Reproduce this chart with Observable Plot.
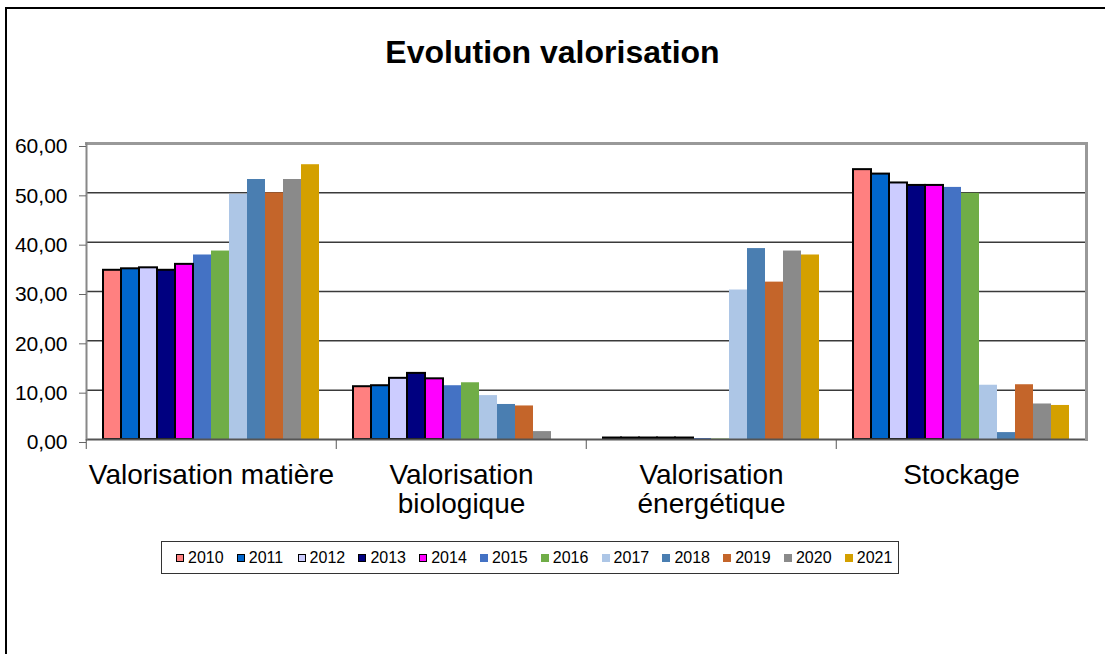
<!DOCTYPE html>
<html>
<head>
<meta charset="utf-8">
<script src="https://cdn.jsdelivr.net/npm/d3@7"></script>
<script src="https://cdn.jsdelivr.net/npm/@observablehq/plot@0.6"></script>
<style>
  html, body { margin: 0; padding: 0; background: white; }
  body { width: 1105px; height: 654px; position: relative; overflow: hidden; font-family: "Liberation Sans", Arial, sans-serif; }
  #border { position: absolute; left: 5px; top: 7px; width: 1200px; height: 800px; border-left: 2px solid #000; border-top: 2px solid #000; }
  #chart { position: absolute; left: 0; top: 0; }
  #title { position: absolute; left: 0; top: 36px; width: 1105px; text-align: center; font-size: 32px; line-height: 32px; font-weight: bold; color: #000; }
  #legend { position: absolute; left: 161px; top: 541px; width: 722px; height: 31px; border: 1.5px solid #333; display: flex; align-items: center; padding-left: 14px; box-sizing: content-box; }
  .item { width: 60.8px; display: flex; align-items: center; font-size: 16px; color: #000; flex: none; }
  .sw { width: 8px; height: 8px; margin-right: 4px; box-sizing: border-box; }
</style>
</head>
<body>
<div id="border"></div>
<div id="chart"></div>
<div id="title">Evolution valorisation</div>
<div id="legend"></div>
<script>
const categories = ["Valorisation matière", "Valorisation biologique", "Valorisation énergétique", "Stockage"];
const categoryLabels = ["Valorisation matière", "Valorisation\nbiologique", "Valorisation\nénergétique", "Stockage"];
const years = ["2010", "2011", "2012", "2013", "2014", "2015", "2016", "2017", "2018", "2019", "2020", "2021"];
const borderedYears = ["2010", "2011", "2012", "2013", "2014"];
const colors = ["#FF8080", "#0066CC", "#CCCCFF", "#000080", "#FF00FF", "#4472C4", "#70AD47", "#ADC6E6", "#4A7EB1", "#C4652A", "#8A8A8A", "#D4A000"];
const valorisationMatiere = [34.3, 34.6, 34.8, 34.3, 35.5, 37.4, 38.2, 49.7, 52.7, 50.0, 52.7, 55.7];
const valorisationBiologique = [10.7, 10.9, 12.4, 13.4, 12.3, 10.9, 11.5, 8.9, 7.1, 6.8, 1.6, 0.0];
const valorisationEnergetique = [0.3, 0.3, 0.3, 0.3, 0.3, 0.2, 0.1, 30.3, 38.7, 31.9, 38.2, 37.4];
const stockage = [54.7, 53.8, 52.0, 51.5, 51.5, 51.1, 49.9, 11.0, 1.4, 11.1, 7.2, 6.9];
const yTicks = [0, 10, 20, 30, 40, 50, 60];
const gridTicks = [10, 20, 30, 40, 50];

const series = [valorisationMatiere, valorisationBiologique, valorisationEnergetique, stockage];
const data = [];
categories.forEach((c, ci) => years.forEach((y, yi) => data.push({category: c, year: y, value: series[ci][yi]})));

const W = 1105, H = 530, ML = 85, MR = 18, MT = 143, MB = 91;
const halfBand = (W - ML - MR) / categories.length / 2;
const labelOf = new Map(categories.map((c, i) => [c, categoryLabels[i]]));

const chart = Plot.plot({
  width: W, height: H,
  marginLeft: ML, marginRight: MR, marginTop: MT, marginBottom: MB,
  style: {fontFamily: "'Liberation Sans', Arial, sans-serif", background: "transparent", color: "#000"},
  fx: {domain: categories, padding: 0},
  x: {domain: years, paddingInner: 0, paddingOuter: 0.74, axis: null},
  y: {domain: [0, 60]},
  color: {type: "ordinal", domain: years, range: colors},
  marks: [
    Plot.ruleY(gridTicks, {stroke: "#3a3a3a", strokeWidth: 1.5}),
    Plot.barY(data, {filter: d => !borderedYears.includes(d.year), fx: "category", x: "year", y: "value", fill: "year"}),
    Plot.barY(data, {filter: d => borderedYears.includes(d.year), fx: "category", x: "year", y: "value", fill: "year", stroke: "#000", strokeWidth: 2}),
    Plot.ruleY([0], {stroke: "#555", strokeWidth: 2}),
    Plot.frame({anchor: "top", stroke: "#999", strokeWidth: 3}),
    Plot.frame({anchor: "right", facetAnchor: "right", stroke: "#999", strokeWidth: 3}),
    Plot.frame({anchor: "left", facetAnchor: "left", stroke: "#888", strokeWidth: 2}),
    Plot.axisY({ticks: yTicks, tickFormat: d => d.toFixed(2).replace(".", ","), tickSize: 7, tickPadding: 12, fontSize: 21, dy: 3, stroke: "#666", label: null}),
    Plot.axisFx({anchor: "bottom", tickSize: 0, tickPadding: 24, fontSize: 28, lineHeight: 1.04, tickFormat: d => labelOf.get(d), label: null}),
    Plot.axisFx({anchor: "bottom", tickSize: 10, tickFormat: () => "", dx: -halfBand, stroke: "#555", label: null})
  ]
});
document.getElementById("chart").appendChild(chart);

const legend = document.getElementById("legend");
years.forEach((y, i) => {
  const item = document.createElement("div");
  item.className = "item";
  const sw = document.createElement("span");
  sw.className = "sw";
  sw.style.background = colors[i];
  if (borderedYears.includes(y)) sw.style.border = "1.5px solid #000";
  const t = document.createElement("span");
  t.textContent = y;
  item.appendChild(sw);
  item.appendChild(t);
  legend.appendChild(item);
});
</script>
</body>
</html>
